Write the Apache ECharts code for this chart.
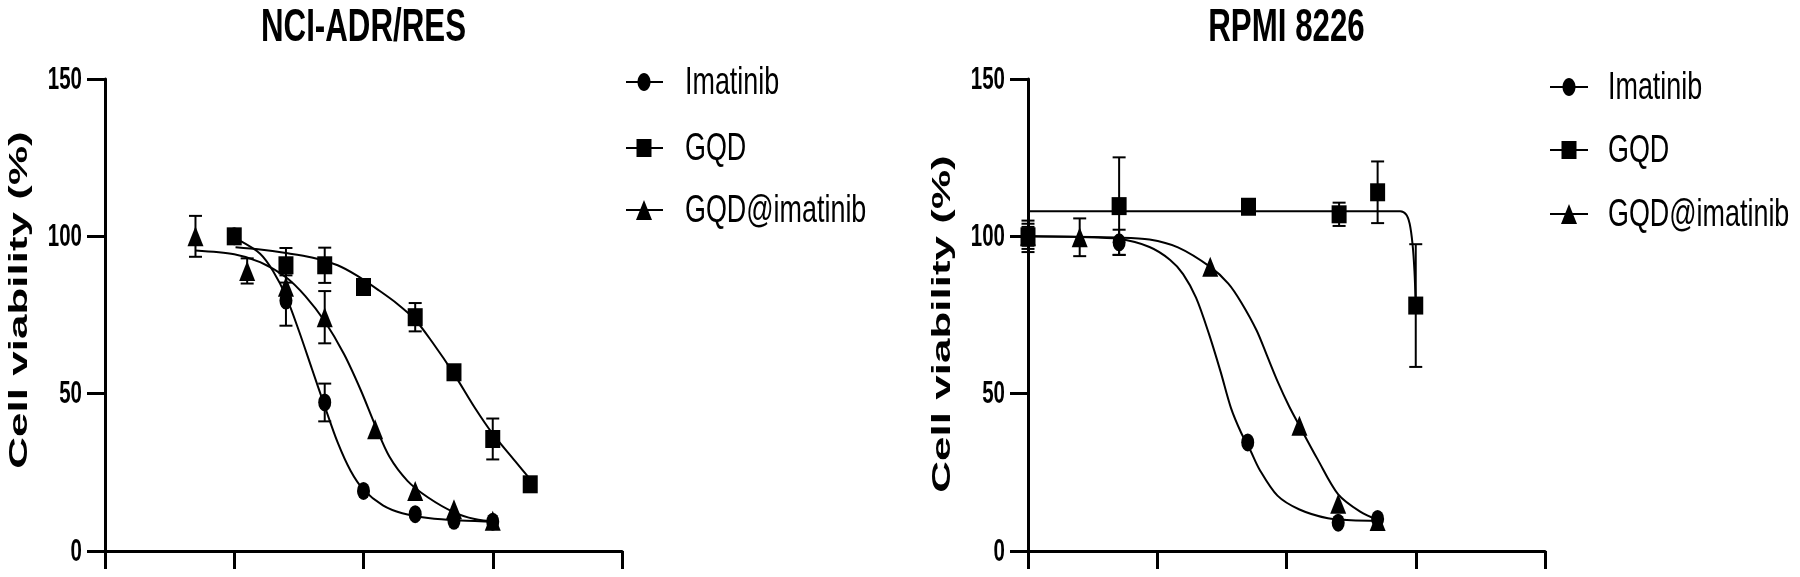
<!DOCTYPE html>
<html>
<head>
<meta charset="utf-8">
<script src="https://cdn.jsdelivr.net/npm/echarts@6/dist/echarts.min.js"></script>
<style>html,body{margin:0;padding:0;background:#fff}#c{width:1800px;height:577px}</style>
</head>
<body>
<div id="c"></div>
<script>
// ---------------- data ----------------
const titles = ['NCI-ADR/RES', 'RPMI 8226'];
const seriesNames = ['Imatinib', 'GQD', 'GQD@imatinib'];
const yTicks = [0, 50, 100, 150];
const xTicks = [0, 1, 2, 3, 4];
const yAxisName = 'Cell viability (%)';

// measured points: [log concentration position, mean viability, sd]
const leftImatinib = [[1.0,100,0],[1.40,79.6,8],[1.70,47.2,6],[2.0,19.1,0],[2.40,11.7,0],[2.70,9.6,0],[3.0,9.3,0]];
const leftGQD = [[1.0,100,1],[1.40,90.8,5.5],[1.70,90.8,5.6],[2.0,83.9,1],[2.40,74.3,4.5],[2.70,56.8,0],[3.0,35.6,6.5],[3.29,21.2,0]];
const leftGQDImatinib = [[0.70,100,6.5],[1.10,89,4],[1.40,84,0],[1.70,74.3,8.3],[2.09,38.7,0],[2.40,19.1,0],[2.70,13.3,0],[3.0,9.6,0]];

const rightImatinib = [[0,100,4],[0.705,98.1,4],[1.70,34.5,0],[2.40,9.0,0],[2.705,10.2,0]];
const rightGQD = [[0,100,5],[0.705,109.6,15.5],[1.706,109.4,1],[2.407,107,3.7],[2.705,114,9.8],[3.0,78,19.5]];
const rightGQDImatinib = [[0,100,3],[0.40,99.7,6],[1.41,90.3,0],[2.10,39.8,0],[2.40,15,0],[2.705,9.5,0]];

// fitted curves
const leftImatinibFit = [[1.04,98.7],[1.20,94.5],[1.30,89],[1.40,81],[1.50,70],[1.60,58],[1.70,46],[1.80,34.5],[1.90,25.5],[2.0,19.5],[2.15,14.5],[2.30,12],[2.50,10.5],[2.75,9.7],[3.03,9.3]];
const leftGQDFit = [[1.01,96.5],[1.2,95.8],[1.4,94.7],[1.6,93.3],[1.8,90.8],[1.95,87.5],[2.12,82.8],[2.26,78.6],[2.4,73.5],[2.53,66.5],[2.7,56.3],[2.86,45.6],[3.0,37.2],[3.17,28.7],[3.31,21.8]];
const leftGQDImatinibFit = [[0.70,95.5],[1.0,94.3],[1.2,91.8],[1.4,87],[1.55,81],[1.7,73],[1.85,62.5],[1.98,51],[2.09,40],[2.2,30],[2.34,22.3],[2.5,17],[2.7,12.3],[2.86,10.2],[3.03,9.3]];

const rightImatinibFit = [[0,100],[0.4,99.8],[0.705,99.2],[0.94,96.6],[1.1,92.5],[1.2,88],[1.3,80.5],[1.4,69],[1.49,57],[1.57,45.5],[1.65,37.5],[1.72,32],[1.79,26],[1.93,17.6],[2.1,13.2],[2.32,10.4],[2.5,9.8],[2.71,9.6]];
const rightGQDFit = [[0,108],[0.5,108],[1,108],[1.5,108],[2,108],[2.5,108],[2.88,108],[2.925,107],[2.953,104],[2.975,97.6],[2.99,89],[3.0,78]];
const rightGQDImatinibFit = [[0,100],[0.705,99.6],[0.94,99],[1.16,96.5],[1.41,90.3],[1.55,85],[1.65,79],[1.77,70],[1.85,62],[1.93,54],[2.02,46],[2.1,39.8],[2.24,29.2],[2.4,18],[2.57,12.5],[2.71,9.8]];

// ---------------- layout / style ----------------
const FONT = '"Liberation Sans", Arial, Helvetica, sans-serif';
const SQUEEZE = 0.68;
const grids = [
  {left: 105, top: 79, width: 517, height: 472},
  {left: 1028, top: 79, width: 517, height: 472}
];
const symbols = [
  {symbol: 'circle', size: [13, 18]},
  {symbol: 'rect', size: [15, 18]},
  {symbol: 'triangle', size: [16, 20]}
];
const legendLayout = [
  {lineX1: 626, lineX2: 663, symX: 644, textX: 685, rows: [82, 148, 210]},
  {lineX1: 1550, lineX2: 1588, symX: 1569, textX: 1608, rows: [87, 150, 214]}
];
const yNamePos = [[20, 300], [943, 324]];

const pointSets = [[leftImatinib, leftGQD, leftGQDImatinib], [rightImatinib, rightGQD, rightGQDImatinib]];
const fitSets = [[leftImatinibFit, leftGQDFit, leftGQDImatinibFit], [rightImatinibFit, rightGQDFit, rightGQDImatinibFit]];

const axisLineStyle = {color: '#000', width: 3};
function makeX(i) {
  return {
    type: 'value', gridIndex: i, min: xTicks[0], max: xTicks[xTicks.length - 1], interval: 1,
    axisLine: {show: true, onZero: false, lineStyle: axisLineStyle},
    axisTick: {show: true, length: 18, lineStyle: {color: '#000', width: 3}},
    axisLabel: {show: false}, splitLine: {show: false}
  };
}
function makeY(i) {
  return {
    type: 'value', gridIndex: i, min: yTicks[0], max: yTicks[yTicks.length - 1], interval: 50,
    axisLine: {show: true, onZero: false, lineStyle: axisLineStyle},
    axisTick: {show: true, length: 18, lineStyle: {color: '#000', width: 3}},
    axisLabel: {show: false}, splitLine: {show: false}
  };
}

function errorRender(params, api) {
  const x = api.value(0), m = api.value(1), s = api.value(2);
  if (!s) return null;
  const t = api.coord([x, m + s]);
  const b = api.coord([x, m - s]);
  const w = 6.5;
  const st = {stroke: '#000', lineWidth: 2};
  return {
    type: 'group',
    children: [
      {type: 'line', shape: {x1: t[0], y1: t[1], x2: b[0], y2: b[1]}, style: st},
      {type: 'line', shape: {x1: t[0] - w, y1: t[1], x2: t[0] + w, y2: t[1]}, style: st},
      {type: 'line', shape: {x1: b[0] - w, y1: b[1], x2: b[0] + w, y2: b[1]}, style: st}
    ]
  };
}

const series = [];
for (let g = 0; g < 2; g++) {
  for (let k = 0; k < 3; k++) {
    series.push({
      name: seriesNames[k] + ' fit ' + g, type: 'line', xAxisIndex: g, yAxisIndex: g,
      data: fitSets[g][k], showSymbol: false, smooth: 0.3,
      lineStyle: {color: '#000', width: 2}, z: 2, silent: true
    });
    series.push({
      name: seriesNames[k] + ' err ' + g, type: 'custom', xAxisIndex: g, yAxisIndex: g,
      data: pointSets[g][k], renderItem: errorRender, encode: {x: 0, y: 1}, z: 3, clip: false
    });
    series.push({
      name: seriesNames[k], type: 'scatter', xAxisIndex: g, yAxisIndex: g,
      data: pointSets[g][k].map(d => [d[0], d[1]]),
      symbol: symbols[k].symbol, symbolSize: symbols[k].size,
      itemStyle: {color: '#000', opacity: 1}, z: 4
    });
  }
}

const chart = echarts.init(document.getElementById('c'), null, {renderer: 'canvas'});
chart.setOption({
  animation: false,
  backgroundColor: '#fff',
  grid: grids,
  xAxis: [makeX(0), makeX(1)],
  yAxis: [makeY(0), makeY(1)],
  series: series
});

// ---------------- text & legend graphics ----------------
const graphic = [];
for (let g = 0; g < 2; g++) {
  const gr = grids[g];
  // title
  graphic.push({
    type: 'text', x: gr.left + gr.width / 2, y: 28, scaleX: SQUEEZE, silent: true,
    style: {text: titles[g], font: 'bold 46px ' + FONT, fill: '#000', align: 'center', verticalAlign: 'middle', textAlign: 'center', textVerticalAlign: 'middle'}
  });
  // y tick labels
  yTicks.forEach(v => {
    const p = chart.convertToPixel({gridIndex: g}, [xTicks[0], v]);
    graphic.push({
      type: 'text', x: p[0] - 23, y: p[1] + 1, scaleX: 0.64, silent: true,
      style: {text: String(v), font: 'bold 32px ' + FONT, fill: '#000', align: 'right', verticalAlign: 'middle', textAlign: 'right', textVerticalAlign: 'middle'}
    });
  });
  // y axis name
  graphic.push({
    type: 'text', x: yNamePos[g][0], y: yNamePos[g][1], rotation: Math.PI / 2, scaleY: 0.6, silent: true,
    style: {text: yAxisName, font: 'bold 44px ' + FONT, fill: '#000', align: 'center', verticalAlign: 'middle', textAlign: 'center', textVerticalAlign: 'middle'}
  });
  // legend
  const L = legendLayout[g];
  for (let k = 0; k < 3; k++) {
    const y = L.rows[k];
    graphic.push({type: 'line', silent: true, shape: {x1: L.lineX1, y1: y, x2: L.lineX2, y2: y}, style: {stroke: '#000', lineWidth: 2}});
    const sz = symbols[k].size;
    if (k === 0) {
      graphic.push({type: 'ellipse', silent: true, shape: {cx: L.symX, cy: y, rx: sz[0] / 2, ry: sz[1] / 2}, style: {fill: '#000'}});
    } else if (k === 1) {
      graphic.push({type: 'rect', silent: true, shape: {x: L.symX - sz[0] / 2, y: y - sz[1] / 2, width: sz[0], height: sz[1]}, style: {fill: '#000'}});
    } else {
      graphic.push({type: 'polygon', silent: true, shape: {points: [[L.symX, y - sz[1] / 2], [L.symX + sz[0] / 2, y + sz[1] / 2], [L.symX - sz[0] / 2, y + sz[1] / 2]]}, style: {fill: '#000'}});
    }
    graphic.push({
      type: 'text', x: L.textX, y: y + 1, scaleX: 0.69, silent: true,
      style: {text: seriesNames[k], font: '39px ' + FONT, fill: '#000', align: 'left', verticalAlign: 'middle', textAlign: 'left', textVerticalAlign: 'middle'}
    });
  }
}
chart.setOption({graphic: graphic});
</script>
</body>
</html>
